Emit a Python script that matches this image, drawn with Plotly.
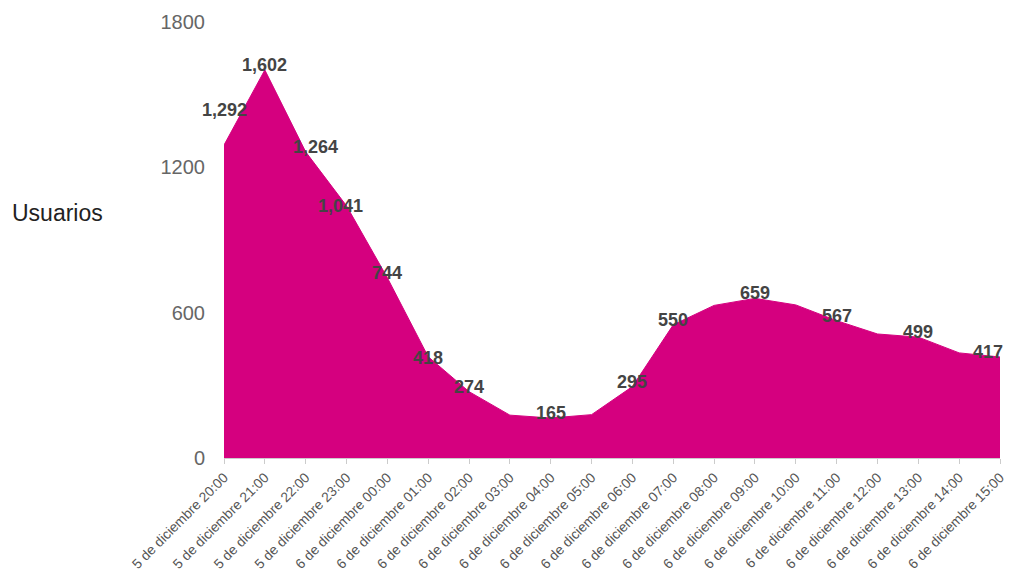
import plotly.graph_objects as go

categories = [
    "5 de diciembre 20:00", "5 de diciembre 21:00", "5 de diciembre 22:00", "5 de diciembre 23:00",
    "6 de diciembre 00:00", "6 de diciembre 01:00", "6 de diciembre 02:00", "6 de diciembre 03:00",
    "6 de diciembre 04:00", "6 de diciembre 05:00", "6 de diciembre 06:00", "6 de diciembre 07:00",
    "6 de diciembre 08:00", "6 de diciembre 09:00", "6 de diciembre 10:00", "6 de diciembre 11:00",
    "6 de diciembre 12:00", "6 de diciembre 13:00", "6 de diciembre 14:00", "6 de diciembre 15:00",
]
usuarios = [1292, 1602, 1264, 1041, 744, 418, 274, 177, 165, 179, 295, 550,
            630, 659, 632, 567, 512, 499, 434, 417]
labeled = [True, True, True, True, True, True, True, False, True, False, True, True,
           False, True, False, True, False, True, False, True]
y_ticks = [0, 600, 1200, 1800]

COLOR = "#d5007f"
FONT = "Liberation Sans, Arial, sans-serif"

fig = go.Figure()
fig.add_trace(go.Scatter(
    x=categories, y=usuarios, mode="lines", fill="tozeroy",
    line=dict(color=COLOR, width=1), fillcolor=COLOR, hoverinfo="x+y",
))

n = len(categories)
label_offsets = {0: (0, 35), 2: (10, 5), 3: (-6, 0), 5: (0, -1), n - 1: (-12, 5)}
for i, (c, v, show) in enumerate(zip(categories, usuarios, labeled)):
    if not show:
        continue
    xs, ys = label_offsets.get(i, (0, 5))
    fig.add_annotation(
        x=c, y=v, text=f"{v:,}", showarrow=False,
        yshift=ys, xshift=xs,
        font=dict(family=FONT, size=18, color="#444444", weight="bold"),
    )

fig.add_annotation(
    xref="paper", yref="paper", x=-0.276, y=0.562, xanchor="left", yanchor="middle",
    text="Usuarios", showarrow=False,
    font=dict(family=FONT, size=23, color="#222222"),
)

# page body has an 8px margin, so the figure is sized and padded to compensate
fig.update_layout(
    width=1004, height=566,
    margin=dict(l=216, r=12, t=14, b=116),
    paper_bgcolor="white", plot_bgcolor="white",
    showlegend=False,
    font=dict(family=FONT),
    xaxis=dict(
        type="category", range=[0, n - 1], automargin=False,
        tickangle=-45, tickfont=dict(size=13.8, color="#555555"),
        showgrid=False, showline=True, linecolor="#cccccc", linewidth=1,
        ticks="outside", ticklen=5, tickcolor="#cccccc",
    ),
    yaxis=dict(
        range=[0, 1800], tickvals=y_ticks, ticktext=[str(t) for t in y_ticks],
        automargin=False,
        tickfont=dict(size=20, color="#666666"), showgrid=False, zeroline=False,
        showline=False, ticklabelstandoff=18,
    ),
)

fig.write_html("out.html", post_script="document.body.style.overflow='hidden';")
